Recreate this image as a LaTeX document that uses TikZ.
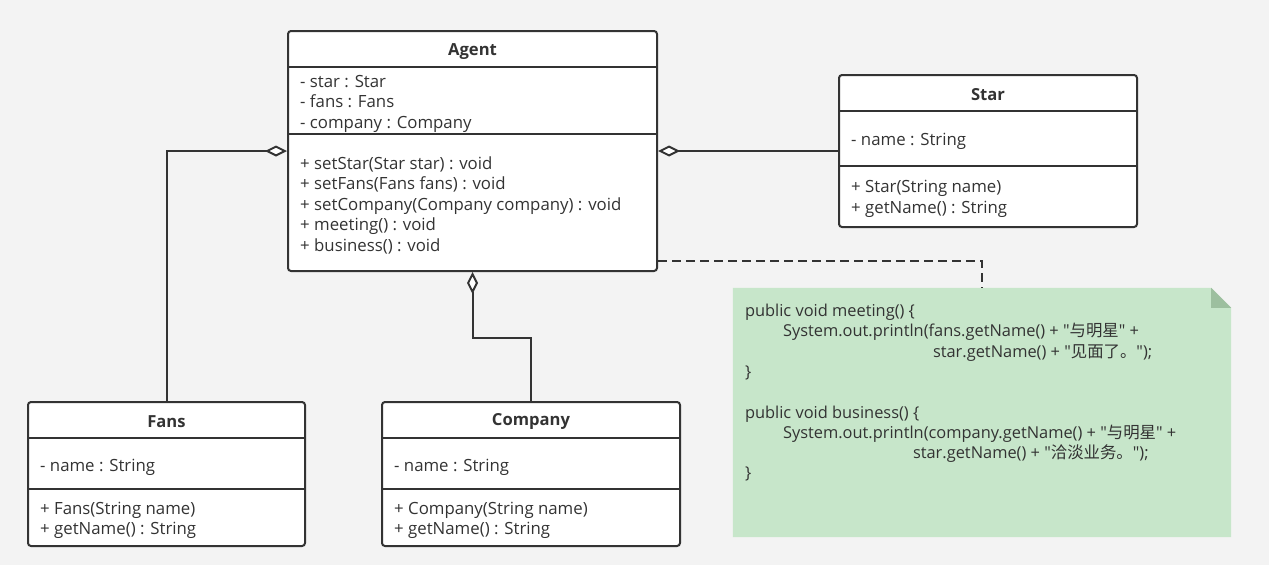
\documentclass[tikz,border=0pt]{standalone}
\usepackage{fontspec}
\setmainfont{Open Sans}
\newfontfamily\codefont{Open Sans}
\newfontfamily\cjk{Noto Sans CJK SC}
\usetikzlibrary{arrows.meta,calc}
\definecolor{canvas}{HTML}{F3F3F3}
\definecolor{ink}{HTML}{333333}
\definecolor{notegreen}{HTML}{C7E6CA}
\definecolor{notefold}{HTML}{9DBF9F}
\tikzset{
  every node/.style={text=ink,font=\fontsize{16.8}{20.5}\selectfont},
  classbox/.style={draw=ink,line width=2pt,rounded corners=3pt,fill=white,inner sep=0pt},
  classname/.style={font=\fontsize{16.6}{20.5}\selectfont\bfseries,inner sep=0pt},
  members/.style={align=left,inner sep=0pt,anchor=west},
  sepline/.style={draw=ink,line width=2pt},
  aggr/.style={{Diamond[fill=white,length=22pt,width=11pt]}-,line width=2pt,draw=ink},
  dashline/.style={draw=ink,line width=2pt,dash pattern=on 9pt off 5pt},
  notebox/.style={inner sep=0pt,minimum width=498pt,minimum height=249pt},
  codetext/.style={align=left,inner sep=0pt,anchor=west,font=\codefont\fontsize{16.4}{20.3}\selectfont},
}

\begin{document}
\begin{tikzpicture}[x=1pt,y=-1pt]
\useasboundingbox (0,0) rectangle (1269,565);
\fill[canvas] (0,0) rectangle (1269,565);

% Agent
\node[classbox,minimum width=369pt,minimum height=240pt] (agent) at (472.5,151) {};
\node[classname] (agentname) at ($(agent.north)+(0,21.5)$) {Agent};
\draw[sepline] ($(agent.north west)+(0,37)$) -- ($(agent.north east)+(0,37)$);
\draw[sepline] ($(agent.north west)+(0,104)$) -- ($(agent.north east)+(0,104)$);
\node[members] (agentattr) at ($(agent.north west)+(13,73.5)$) {- star : Star\\- fans : Fans\\- company : Company};
\node[members] (agentops) at ($(agent.north west)+(13,175)$) {+ setStar(Star star) : void\\+ setFans(Fans fans) : void\\+ setCompany(Company company) : void\\+ meeting() : void\\+ business() : void};

% Star
\node[classbox,minimum width=298pt,minimum height=152pt] (star) at (988,151) {};
\node[classname] (starname) at ($(star.north)+(0,20.5)$) {Star};
\draw[sepline] ($(star.north west)+(0,37)$) -- ($(star.north east)+(0,37)$);
\draw[sepline] ($(star.north west)+(0,92)$) -- ($(star.north east)+(0,92)$);
\node[members] (starattr) at ($(star.north west)+(13,67)$) {- name : String};
\node[members] (starops) at ($(star.north west)+(13,125)$) {+ Star(String name)\\+ getName() : String};

% Fans
\node[classbox,minimum width=277pt,minimum height=144pt] (fans) at (166.5,474) {};
\node[classname] (fansname) at ($(fans.north)+(0,20.5)$) {Fans};
\draw[sepline] ($(fans.north west)+(0,37)$) -- ($(fans.north east)+(0,37)$);
\draw[sepline] ($(fans.north west)+(0,88)$) -- ($(fans.north east)+(0,88)$);
\node[members] (fansattr) at ($(fans.north west)+(13,66)$) {- name : String};
\node[members] (fansops) at ($(fans.north west)+(13,119.5)$) {+ Fans(String name)\\+ getName() : String};

% Company
\node[classbox,minimum width=298pt,minimum height=144pt] (company) at (531,474) {};
\node[classname] (companyname) at ($(company.north)+(0,20.5)$) {Company};
\draw[sepline] ($(company.north west)+(0,37)$) -- ($(company.north east)+(0,37)$);
\draw[sepline] ($(company.north west)+(0,88)$) -- ($(company.north east)+(0,88)$);
\node[members] (companyattr) at ($(company.north west)+(13,66)$) {- name : String};
\node[members] (companyops) at ($(company.north west)+(13,119.5)$) {+ Company(String name)\\+ getName() : String};

% note
\node[notebox] (note) at (982,412.5) {};
\fill[notegreen] (note.north west) -- ($(note.north east)+(-20,0)$) -- ($(note.north east)+(0,20)$) -- (note.south east) -- (note.south west) -- cycle;
\fill[notefold] ($(note.north east)+(-20,0)$) -- ($(note.north east)+(0,20)$) -- ($(note.north east)+(-20,20)$) -- cycle;
\node[codetext] (code) at ($(note.north west)+(12,105)$) {public void meeting() \{\\
\hspace*{38pt}System.out.println(fans.getName() + "{\cjk 与明星}" +\\
\hspace*{188pt}star.getName() + "{\cjk 见面了。}");\\
\}\\
\mbox{}\\
public void business() \{\\
\hspace*{38pt}System.out.println(company.getName() + "{\cjk 与明星}" +\\
\hspace*{168pt}star.getName() + "{\cjk 洽淡业务。}");\\
\}};

% connectors
\draw[aggr] (agent.west) -| (fans.north);
\draw[aggr] (agent.east) -- (star.west);
\draw[aggr] (agent.south) -- ++(0,66) -| (company.north);
\draw[dashline] ($(agent.south east)+(0,-11)$) -| (note.north);
\end{tikzpicture}
\end{document}
